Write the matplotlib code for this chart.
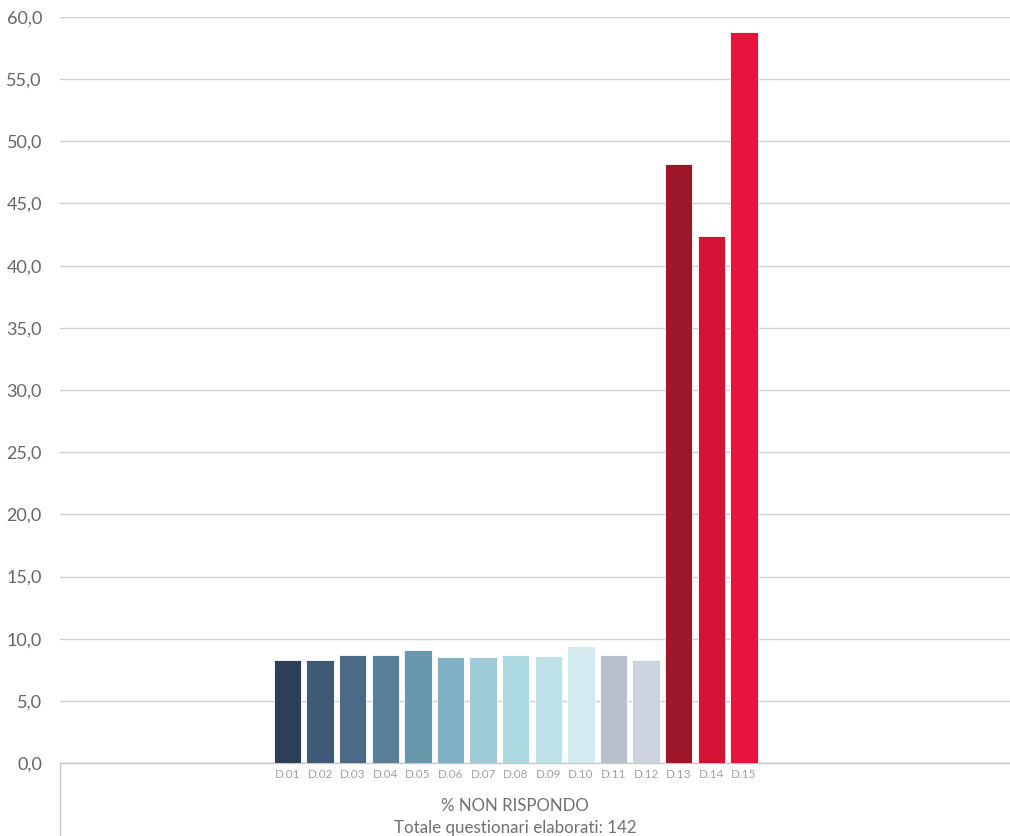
import matplotlib
matplotlib.use('Agg')
import matplotlib.pyplot as plt
from matplotlib.lines import Line2D
from matplotlib.ticker import FuncFormatter

plt.rcParams['font.family'] = ['Lato', 'DejaVu Sans']

# dati
labels = ['D.01', 'D.02', 'D.03', 'D.04', 'D.05', 'D.06', 'D.07', 'D.08',
          'D.09', 'D.10', 'D.11', 'D.12', 'D.13', 'D.14', 'D.15']
values = [8.3, 8.3, 8.7, 8.7, 9.1, 8.5, 8.5, 8.7, 8.6, 9.4, 8.7, 8.3,
          48.2, 42.4, 58.8]
colors = ['#2d3f56', '#3f5a75', '#4a6a86', '#587f98', '#6898ac', '#7fb1c4',
          '#9ecbd7', '#acd8df', '#bfe2e8', '#d3eaee', '#b8bfca', '#ccd3dd',
          '#9b1729', '#d41236', '#e5133d']
category = '% NON RISPONDO'
subtitle = 'Totale questionari elaborati: 142'

fig = plt.figure(figsize=(10.1, 8.36), dpi=100)
ax = fig.add_axes([60 / 1010, 73 / 836, 950 / 1010, 746 / 836])

x = list(range(len(values)))
ax.bar(x, values, width=0.84, color=colors, edgecolor='white', linewidth=0.6,
       zorder=3)

ax.set_xlim(-6.98, 22.16)
ax.set_ylim(0, 60)
ax.set_yticks([i * 5 for i in range(13)])
ax.yaxis.set_major_formatter(FuncFormatter(lambda v, p: f'{v:.1f}'.replace('.', ',')))
ax.tick_params(axis='y', length=0, pad=13, labelsize=13, labelcolor='#666666')
ax.set_xticks([])
ax.grid(axis='y', color='#d0d0d0', linewidth=1, zorder=0)

for s in ['top', 'right', 'left']:
    ax.spines[s].set_visible(False)
ax.spines['bottom'].set_color('#c8c8c8')
ax.spines['bottom'].set_linewidth(1)

# etichette delle serie sotto le barre
for xi, lab in zip(x, labels):
    ax.text(xi, -0.9, lab, ha='center', va='center', fontsize=8.5,
            color='#a0a0a0')

# linea verticale a sinistra della categoria
fig.add_artist(Line2D([60 / 1010, 60 / 1010], [0, 73 / 836],
                      color='#c8c8c8', linewidth=1))

fig.text(515 / 1010, 1 - 806 / 836, category, ha='center', va='center',
         fontsize=12.2, color='#707070')
fig.text(515 / 1010, 1 - 828 / 836, subtitle, ha='center', va='center',
         fontsize=12.2, color='#707070')

fig.savefig('out.png', dpi=100)
